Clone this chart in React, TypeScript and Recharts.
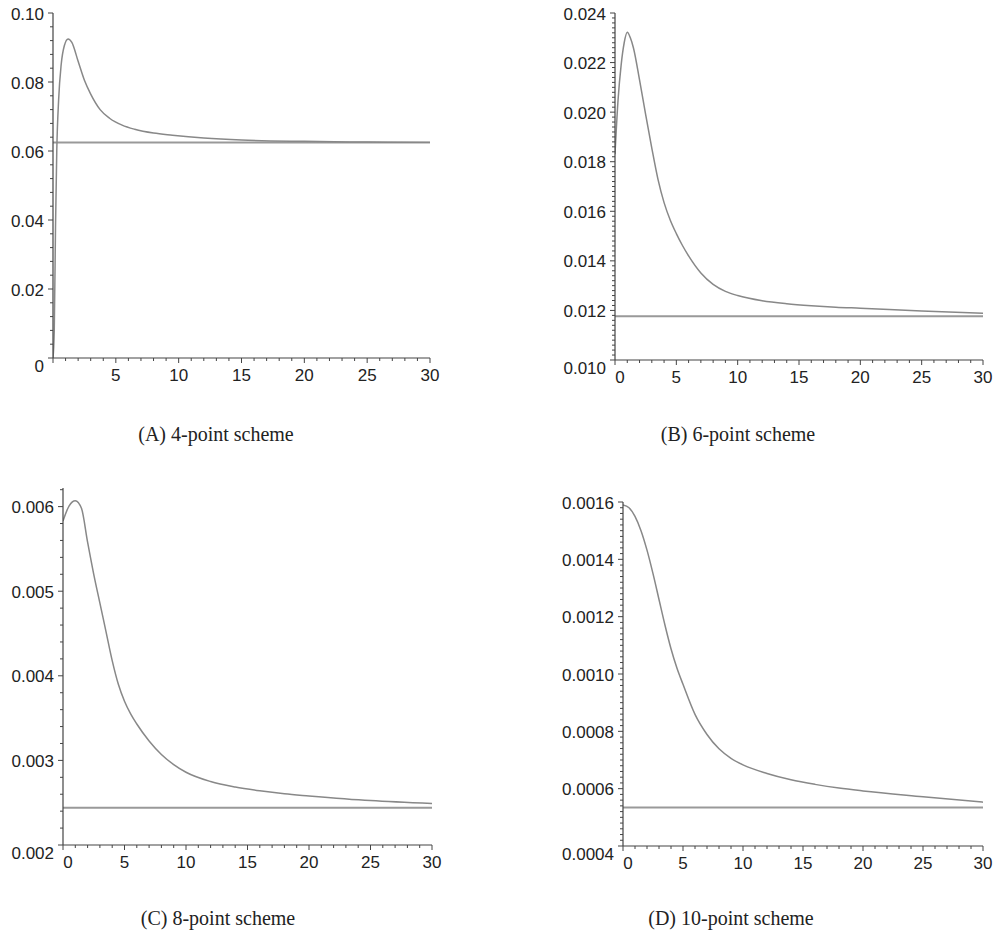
import { Line, LineChart, ReferenceLine, XAxis, YAxis } from 'recharts'

// shared x ticks
const xTicks = [0, 5, 10, 15, 20, 25, 30]
const xLabels = ['0', '5', '10', '15', '20', '25', '30']

// (A) 4-point scheme
const xA = [0, 0.1, 0.2, 0.3, 0.45, 0.65, 0.9, 1.2, 1.5, 2, 2.5, 3, 3.75, 4.5, 5.5, 6.5, 8, 9.5, 12, 15, 20, 25, 30]
const yA = [0, 0.008, 0.038, 0.06, 0.075, 0.085, 0.0905, 0.0925, 0.0915, 0.086, 0.0805, 0.0765, 0.072, 0.0695, 0.0675, 0.0663, 0.0652, 0.0646, 0.0638, 0.0632, 0.0628, 0.0626, 0.0625]
const limitA = 0.0625
const yTicksA = [0, 0.02, 0.04, 0.06, 0.08, 0.1]
const yLabelsA = ['0', '0.02', '0.04', '0.06', '0.08', '0.10']

// (B) 6-point scheme
const xB = [0, 0.25, 0.5, 0.75, 1, 1.25, 1.5, 2, 2.5, 3, 3.5, 4, 4.5, 5, 5.5, 6, 7, 8, 9, 10, 12, 14, 16, 18, 20, 25, 30]
const yB = [0.0183, 0.0205, 0.0219, 0.0228, 0.02322, 0.023, 0.0226, 0.0213, 0.0199, 0.01855, 0.0173, 0.01635, 0.01565, 0.0151, 0.01462, 0.0142, 0.01351, 0.01305, 0.01277, 0.0126, 0.01239, 0.01227, 0.01219, 0.01213, 0.01209, 0.01198, 0.01189]
const limitB = 0.01177
const yTicksB = [0.01, 0.012, 0.014, 0.016, 0.018, 0.02, 0.022, 0.024]
const yLabelsB = ['0.010', '0.012', '0.014', '0.016', '0.018', '0.020', '0.022', '0.024']

// (C) 8-point scheme
const xC = [0, 0.5, 1, 1.5, 2, 2.5, 3, 3.5, 4, 4.5, 5, 5.5, 6, 7, 8, 9, 10, 12, 14, 16, 18, 20, 25, 30]
const yC = [0.00583, 0.00601, 0.00607, 0.00598, 0.00558, 0.0052, 0.00486, 0.00452, 0.00418, 0.0039, 0.0037, 0.00355, 0.00343, 0.00323, 0.00307, 0.00295, 0.00286, 0.00275, 0.002685, 0.00264, 0.002605, 0.00258, 0.002525, 0.00249]
const limitC = 0.00244
const yTicksC = [0.002, 0.003, 0.004, 0.005, 0.006]
const yLabelsC = ['0.002', '0.003', '0.004', '0.005', '0.006']

// (D) 10-point scheme
const xD = [0, 0.5, 1, 1.5, 2, 2.5, 3, 3.5, 4, 4.5, 5, 6, 7, 8, 9, 10, 12, 14, 16, 18, 20, 25, 30]
const yD = [0.00159, 0.00158, 0.00155, 0.0015, 0.001432, 0.00135, 0.00126, 0.00117, 0.001088, 0.00102, 0.000964, 0.000859, 0.000789, 0.000739, 0.000706, 0.000683, 0.000653, 0.000631, 0.000615, 0.000602, 0.000592, 0.000572, 0.000553]
const limitD = 0.000534
const yTicksD = [0.0004, 0.0006, 0.0008, 0.001, 0.0012, 0.0014, 0.0016]
const yLabelsD = ['0.0004', '0.0006', '0.0008', '0.0010', '0.0012', '0.0014', '0.0016']

const AXIS = '#444'
const TICK_FONT = '"Liberation Sans", Arial, sans-serif'

function stepTicks(min: number, max: number, step: number) {
  const out: number[] = []
  for (let k = Math.ceil(min / step - 1e-6); k * step <= max + step * 1e-6; k++) out.push(+(k * step).toPrecision(10))
  return out
}

interface PanelProps {
  left: number; top: number; right: number; bottom: number
  xs: number[]; ys: number[]; limit: number
  yMin: number; yMax: number; yTicks: number[]; yLabels: string[]; yMinor: number
  showX0: boolean
}

function Panel(p: PanelProps) {
  const mTop = 12, mRight = 24, yW = 70, xH = 34
  const data = p.xs.map((x, i) => ({ x, v: p.ys[i] }))
  const yAll = stepTicks(p.yMin, p.yMax, p.yMinor)
  const xAll = stepTicks(0, 30, 1)
  const epsY = p.yMinor * 0.01

  const YTick = (props: any) => {
    const { x, y, payload } = props
    const idx = p.yTicks.findIndex((t) => Math.abs(t - payload.value) < epsY)
    if (idx < 0) return <line x1={x - 3} x2={x} y1={y} y2={y} stroke={AXIS} strokeWidth={1} />
    const dy = idx === 0 ? 8 : 1
    return (
      <g>
        <line x1={x - 5} x2={x} y1={y} y2={y} stroke={AXIS} strokeWidth={1} />
        <text x={x - 9} y={y + dy} textAnchor="end" dominantBaseline="central" fontSize={17} fontFamily={TICK_FONT} fill="#222">
          {p.yLabels[idx]}
        </text>
      </g>
    )
  }

  const XTick = (props: any) => {
    const { x, y, payload } = props
    const idx = xTicks.findIndex((t) => Math.abs(t - payload.value) < 0.01)
    if (idx < 0) return <line x1={x} x2={x} y1={y} y2={y + 3} stroke={AXIS} strokeWidth={1} />
    const label = idx === 0 && !p.showX0 ? '' : xLabels[idx]
    const dx = idx === 0 ? 5 : 0
    return (
      <g>
        <line x1={x} x2={x} y1={y} y2={y + 5} stroke={AXIS} strokeWidth={1} />
        <text x={x + dx} y={y + 17} textAnchor="middle" dominantBaseline="central" fontSize={17} fontFamily={TICK_FONT} fill="#222">
          {label}
        </text>
      </g>
    )
  }

  const w = yW + (p.right - p.left) + mRight
  const h = mTop + (p.bottom - p.top) + xH
  return (
    <div style={{ position: 'absolute', left: p.left - yW, top: p.top - mTop }}>
      <LineChart width={w} height={h} data={data} margin={{ top: mTop, right: mRight, bottom: 0, left: 0 }}>
        <XAxis dataKey="x" type="number" domain={[0, 30]} ticks={xAll} interval={0} tick={XTick}
          tickLine={false} tickSize={0} tickMargin={0} axisLine={{ stroke: AXIS, strokeWidth: 1.2 }} height={xH} allowDataOverflow />
        <YAxis type="number" domain={[p.yMin, p.yMax]} ticks={yAll} interval={0} tick={YTick}
          tickLine={false} tickSize={0} tickMargin={0} axisLine={{ stroke: AXIS, strokeWidth: 1.2 }} width={yW} allowDataOverflow />
        <ReferenceLine y={p.limit} stroke="#999" strokeWidth={2} />
        <Line type="monotone" dataKey="v" stroke="#888" strokeWidth={1.5} dot={false} isAnimationActive={false} />
      </LineChart>
    </div>
  )
}

const captionStyle = (cx: number, cy: number): React.CSSProperties => ({
  position: 'absolute', left: cx - 150, top: cy - 13, width: 300, textAlign: 'center',
  fontFamily: '"Liberation Serif", "Times New Roman", serif', fontSize: 20, lineHeight: '26px', color: '#222',
})

export default function App() {
  return (
    <div style={{ position: 'absolute', left: 0, top: 0, width: 995, height: 937, background: '#fff', overflow: 'hidden' }}>
      <Panel left={53} top={13} right={430} bottom={358} xs={xA} ys={yA} limit={limitA}
        yMin={0} yMax={0.1} yTicks={yTicksA} yLabels={yLabelsA} yMinor={0.004} showX0={false} />
      <Panel left={615} top={13} right={983} bottom={360} xs={xB} ys={yB} limit={limitB}
        yMin={0.01} yMax={0.024} yTicks={yTicksB} yLabels={yLabelsB} yMinor={0.0002} showX0={true} />
      <Panel left={63} top={488} right={432} bottom={845} xs={xC} ys={yC} limit={limitC}
        yMin={0.002} yMax={0.00622} yTicks={yTicksC} yLabels={yLabelsC} yMinor={0.0002} showX0={true} />
      <Panel left={623} top={502} right={983} bottom={846} xs={xD} ys={yD} limit={limitD}
        yMin={0.0004} yMax={0.0016} yTicks={yTicksD} yLabels={yLabelsD} yMinor={0.00002} showX0={true} />
      <div style={captionStyle(216, 434)}>(A) 4-point scheme</div>
      <div style={captionStyle(738, 434)}>(B) 6-point scheme</div>
      <div style={captionStyle(218, 918)}>(C) 8-point scheme</div>
      <div style={captionStyle(731, 918)}>(D) 10-point scheme</div>
    </div>
  )
}
